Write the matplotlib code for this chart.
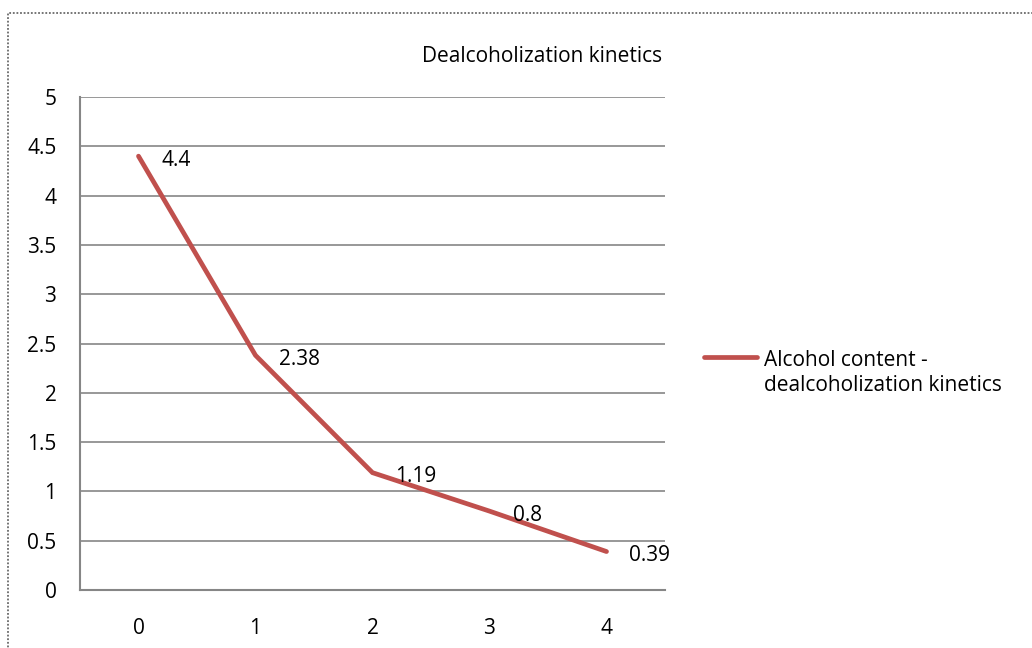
import matplotlib
matplotlib.use("Agg")
import matplotlib.pyplot as plt
from matplotlib.patches import Rectangle
from matplotlib.lines import Line2D

categories = ["0", "1", "2", "3", "4"]
values = [4.4, 2.38, 1.19, 0.8, 0.39]
value_labels = ["4.4", "2.38", "1.19", "0.8", "0.39"]
y_ticks = [0, 0.5, 1, 1.5, 2, 2.5, 3, 3.5, 4, 4.5, 5]
y_tick_labels = ["0", "0.5", "1", "1.5", "2", "2.5", "3", "3.5", "4", "4.5", "5"]
title = "Dealcoholization kinetics"
legend_label = "Alcohol content -\ndealcoholization kinetics"

plt.rcParams['font.family'] = ['Open Sans', 'DejaVu Sans']
FS = 15
W, H = 1032, 648
fig = plt.figure(figsize=(W / 100, H / 100), dpi=100)

# outer dotted border
fig.patches.append(Rectangle((8 / W, -0.1), 1.2, (H - 13) / H + 0.1, transform=fig.transFigure,
                             fill=False, edgecolor='#6a6a6a', linestyle=(0, (1, 1)), linewidth=1.3))

ax = fig.add_axes([80 / W, (H - 590) / H, 585 / W, (590 - 97) / H])
line_color = '#C0504D'
grid_color = '#868686'
x = list(range(len(categories)))
ax.plot(x, values, color=line_color, linewidth=3.4, solid_capstyle='round', solid_joinstyle='miter')
for xi, v, lab in zip(x, values, value_labels):
    ax.annotate(lab, (xi, v), xytext=(23, -4), textcoords='offset pixels',
                ha='left', va='center', fontsize=FS, color='black')

ax.set_xlim(-0.5, len(categories) - 0.5)
ax.set_ylim(0, 5)
ax.set_yticks(y_ticks)
ax.set_yticklabels(y_tick_labels, fontsize=FS)
ax.set_xticks(x)
ax.set_xticklabels(categories, fontsize=FS)
ax.tick_params(axis='both', length=0)
ax.tick_params(axis='y', pad=17)
ax.tick_params(axis='x', pad=20)
ax.yaxis.grid(True, color=grid_color, linewidth=1.2)
ax.set_axisbelow(True)
for s in ['top', 'right']:
    ax.spines[s].set_visible(False)
for s in ['left', 'bottom']:
    ax.spines[s].set_color(grid_color)
    ax.spines[s].set_linewidth(1.5)

fig.text(542 / W, 1 - 57 / H, title, ha='center', va='center', fontsize=FS)

# legend
fig.add_artist(Line2D([704 / W, 757 / W], [1 - 357 / H, 1 - 357 / H], transform=fig.transFigure,
                      color=line_color, linewidth=3.4, solid_capstyle='round'))
fig.text(764 / W, 1 - 373 / H, legend_label, ha='left', va='center', fontsize=FS, linespacing=1.3)

fig.savefig('out.png', dpi=100)
